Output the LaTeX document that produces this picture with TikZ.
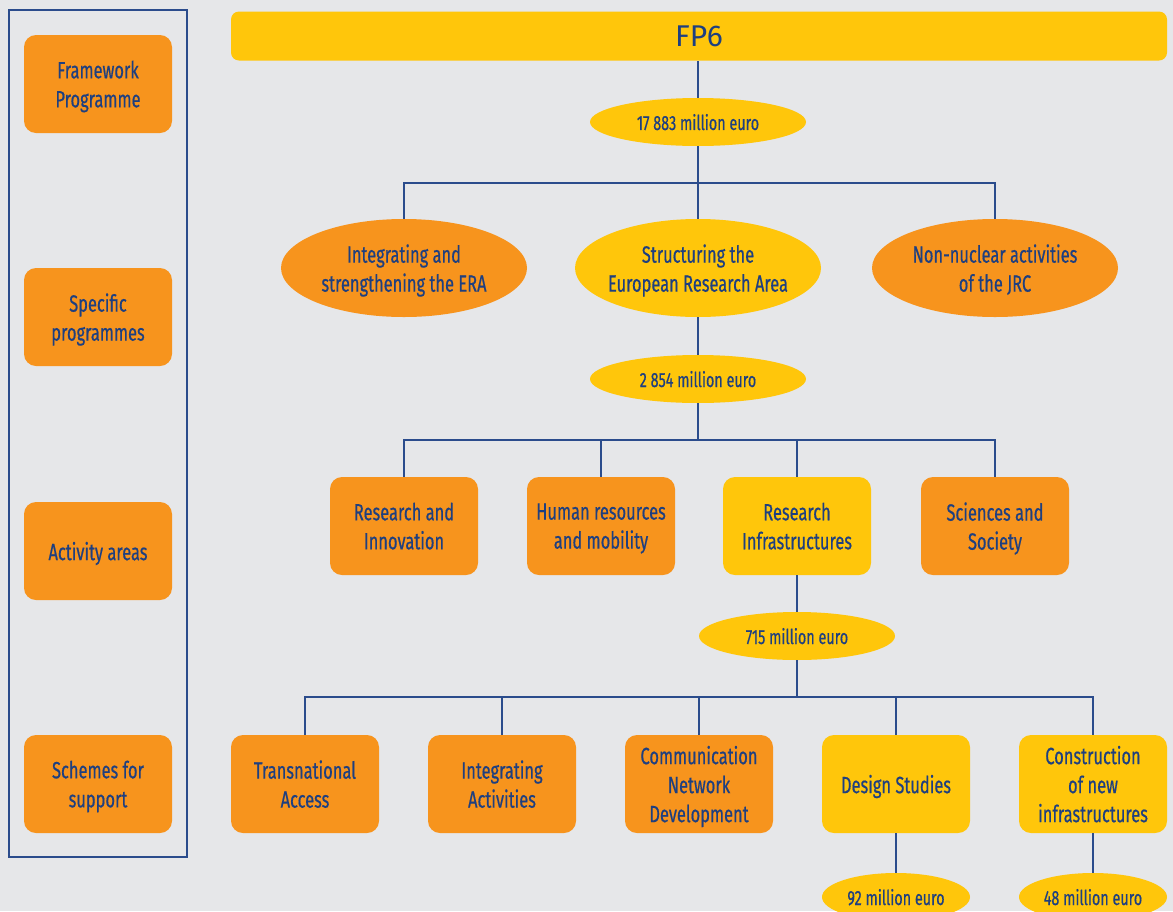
\documentclass[tikz,border=0pt]{standalone}
\usepackage{fontspec}
\setmainfont{Fira Sans}[FakeStretch=0.7, FakeBold=0.5]
\newfontfamily\titlefont{Fira Sans}
\usetikzlibrary{shapes.geometric}
\definecolor{bggrey}{HTML}{E6E7E9}
\definecolor{fporange}{HTML}{F7941D}
\definecolor{fpyellow}{HTML}{FFC60B}
\definecolor{txtblue}{HTML}{1E3F80}
\definecolor{lineblue}{HTML}{2B4C8C}
\begin{document}
\begin{tikzpicture}[x=1pt,y=-1pt,
  box/.style={rounded corners=12pt, minimum width=148pt, minimum height=98pt, inner sep=0pt, align=center, text=txtblue, text depth=0pt, font=\fontsize{23.5}{29}\selectfont},
  obox/.style={box, fill=fporange},
  ybox/.style={box, fill=fpyellow},
  area/.style={ellipse, minimum width=246pt, minimum height=98pt, inner ysep=0pt, inner xsep=-8pt, align=center, text=txtblue, text depth=0pt, font=\fontsize{23.5}{29}\selectfont},
  money/.style={ellipse, fill=fpyellow, minimum height=48pt, inner sep=0pt, text=txtblue, text depth=0pt, font=\fontsize{20.5}{24}\selectfont},
  link/.style={draw=lineblue, line width=1.3pt}]
\fill[bggrey] (0,0) rectangle (1173,911);
\clip (0,0) rectangle (1173,911);
% left column
\draw[lineblue, line width=1.3pt] (9,10) rectangle (187,857);
\node[obox] (lfp) at (98,84) {Framework\\Programme};
\node[obox] (lsp) at (98,317) {Specific\\programmes};
\node[obox] (lact) at (98,551) {Activity areas};
\node[obox] (lsch) at (98,784) {Schemes for\\support};
% top
\node[rounded corners=8pt, fill=fpyellow, minimum width=936pt, minimum height=49pt, inner sep=0pt, text=txtblue, text depth=0pt, font=\titlefont\fontsize{30}{34}\selectfont] (fp6) at (699,36) {FP6};
\node[money, minimum width=216pt] (m1) at (698,122) {17 883 million euro};
\node[area, fill=fporange] (ise) at (404,268) {Integrating and\\strengthening the ERA};
\node[area, fill=fpyellow] (sera) at (698,268) {Structuring the\\European Research Area};
\node[area, fill=fporange] (jrc) at (995,268) {Non-nuclear activities\\of the JRC};
\coordinate (b1) at (698,183);
\draw[link] (m1) -- (m1 |- fp6.south);
\draw[link] (m1) -- (sera);
\draw[link] (ise) |- (b1) -| (jrc);
% activity areas
\node[money, minimum width=216pt] (m2) at (698,379) {2 854 million euro};
\node[obox] (rai) at (404,526) {Research and\\Innovation};
\node[obox] (hrm) at (601,526) {Human resources\\and mobility};
\node[ybox] (rinf) at (797,526) {Research\\Infrastructures};
\node[obox] (sas) at (995,526) {Sciences and\\Society};
\coordinate (b2) at (698,440);
\draw[link] (sera) -- (m2);
\draw[link] (m2) -- (b2);
\draw[link] (rai) |- (b2) -| (sas);
\draw[link] (hrm) -- (hrm |- b2);
\draw[link] (rinf) -- (rinf |- b2);
% schemes
\node[money, minimum width=196pt] (m3) at (797,636) {715 million euro};
\node[obox] (ta) at (305,784) {Transnational\\Access};
\node[obox] (ia) at (502,784) {Integrating\\Activities};
\node[obox] (cnd) at (699,784) {Communication\\Network\\Development};
\node[ybox] (ds) at (896,784) {Design Studies};
\node[ybox] (cni) at (1093,784) {Construction\\of new\\infrastructures};
\coordinate (b3) at (797,697);
\draw[link] (rinf) -- (m3);
\draw[link] (m3) -- (b3);
\draw[link] (ta) |- (b3) -| (cni);
\draw[link] (ia) -- (ia |- b3);
\draw[link] (cnd) -- (cnd |- b3);
\draw[link] (ds) -- (ds |- b3);
\node[money, minimum width=148pt] (m4) at (896,897) {92 million euro};
\node[money, minimum width=148pt] (m5) at (1093,897) {48 million euro};
\draw[link] (ds) -- (m4);
\draw[link] (cni) -- (m5);
\end{tikzpicture}
\end{document}
